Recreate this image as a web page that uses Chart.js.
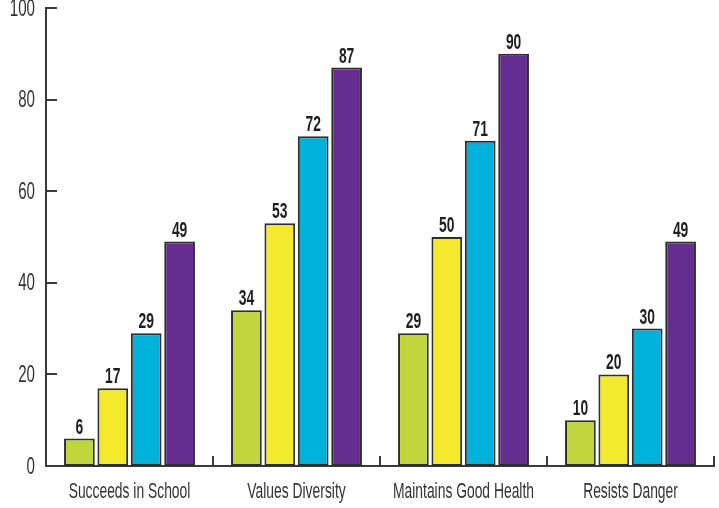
<!DOCTYPE html>
<html>
<head>
<meta charset="utf-8">
<script src="https://cdn.jsdelivr.net/npm/chart.js@4"></script>
<style>
  html, body { margin: 0; padding: 0; background: #fff; }
  #wrap { width: 719px; height: 508px; }
</style>
</head>
<body>
<div id="wrap"><canvas id="chart"></canvas></div>
<script>
const categories = ['Succeeds in School', 'Values Diversity', 'Maintains Good Health', 'Resists Danger'];
const seriesA = [6, 34, 29, 10];
const seriesB = [17, 53, 50, 20];
const seriesC = [29, 72, 71, 30];
const seriesD = [49, 87, 90, 49];
const yTicks = [0, 20, 40, 60, 80, 100];

const FONT = '"Liberation Sans", Arial, sans-serif';
const INK = '#3a3a3a';
const SQUEEZE = 0.63; // the original type is a narrow face

function narrowText(ctx, text, x, y) {
    ctx.save();
    ctx.translate(x, y);
    ctx.scale(SQUEEZE, 1);
    ctx.fillText(text, 0, 0);
    ctx.restore();
}

// values above bars + axis labels, all in condensed text
const labels = {
    id: 'labels',
    afterDraw(chart) {
        const ctx = chart.ctx;
        const xs = chart.scales.x;
        const ys = chart.scales.y;
        ctx.save();
        ctx.textAlign = 'center';
        ctx.textBaseline = 'alphabetic';

        ctx.font = 'bold 22px ' + FONT;
        ctx.fillStyle = '#1e1e1e';
        chart.data.datasets.forEach((ds, i) => {
            chart.getDatasetMeta(i).data.forEach((bar, j) => {
                narrowText(ctx, String(ds.data[j]), bar.x, bar.y - 5);
            });
        });

        ctx.font = '22px ' + FONT;
        ctx.fillStyle = '#333';
        categories.forEach((c, i) => {
            narrowText(ctx, c, xs.getPixelForValue(i), 498);
        });

        ctx.font = '24px ' + FONT;
        ctx.textAlign = 'right';
        ctx.textBaseline = 'middle';
        yTicks.forEach(v => {
            narrowText(ctx, String(v), 35, ys.getPixelForValue(v) + 1);
        });
        ctx.restore();
    }
};

// axis tick marks drawn on the inside of the plot
const innerTicks = {
    id: 'innerTicks',
    afterDraw(chart) {
        const ctx = chart.ctx;
        const x = chart.scales.x;
        const y = chart.scales.y;
        ctx.save();
        ctx.strokeStyle = INK;
        ctx.lineWidth = 2;
        ctx.beginPath();
        yTicks.forEach(v => {
            const py = Math.round(y.getPixelForValue(v));
            ctx.moveTo(x.left, py);
            ctx.lineTo(x.left + 11, py);
        });
        for (let i = 1; i <= categories.length; i++) {
            const px = Math.round(x.getPixelForValue(i - 0.5));
            ctx.moveTo(px, y.bottom);
            ctx.lineTo(px, y.bottom - 10);
        }
        ctx.stroke();
        ctx.restore();
    }
};

function makeSet(label, data, color) {
    return {
        label: label,
        data: data,
        backgroundColor: color,
        borderColor: '#2e2e2e',
        borderWidth: 2,
        borderSkipped: false,
        categoryPercentage: 0.8,
        barPercentage: 0.92
    };
}

const chartCtx = document.getElementById('chart').getContext('2d');

const chart = new Chart(chartCtx, {
    type: 'bar',
    data: {
        labels: categories,
        datasets: [
            makeSet('Series 1', seriesA, '#bfd73c'),
            makeSet('Series 2', seriesB, '#f3ea2e'),
            makeSet('Series 3', seriesC, '#00b1d9'),
            makeSet('Series 4', seriesD, '#652d8f')
        ]
    },
    options: {
        maintainAspectRatio: false,
        animation: false,
        layout: {
            padding: { top: 8, right: 5, left: 0, bottom: 0 }
        },
        plugins: {
            legend: { display: false },
            tooltip: { enabled: false }
        },
        scales: {
            x: {
                grid: { display: false, drawTicks: false },
                border: { display: true, color: INK, width: 2 },
                ticks: { display: false },
                afterFit(scale) { scale.height = 42; }
            },
            y: {
                min: 0,
                max: 100,
                afterBuildTicks(scale) {
                    scale.ticks = yTicks.map(v => ({ value: v }));
                },
                grid: { display: false, drawTicks: false },
                border: { display: true, color: INK, width: 2 },
                ticks: { display: false },
                afterFit(scale) { scale.width = 46; }
            }
        }
    },
    plugins: [innerTicks, labels]
});
</script>
</body>
</html>
